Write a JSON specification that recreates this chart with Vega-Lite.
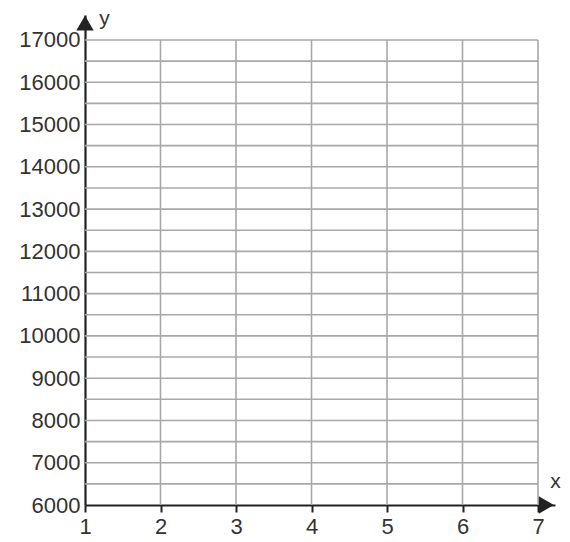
{
  "$schema": "https://vega.github.io/schema/vega-lite/v6.json",
  "autosize": "none",
  "width": 470,
  "height": 490,
  "padding": {"left": 85, "top": 15, "right": 15, "bottom": 37},
  "background": "white",
  "config": {"view": {"stroke": null}},
  "datasets": {
    "vgrid": [{"x": 2}, {"x": 3}, {"x": 4}, {"x": 5}, {"x": 6}, {"x": 7}],
    "hgrid": [
      {"y": 6500}, {"y": 7000}, {"y": 7500}, {"y": 8000}, {"y": 8500},
      {"y": 9000}, {"y": 9500}, {"y": 10000}, {"y": 10500}, {"y": 11000},
      {"y": 11500}, {"y": 12000}, {"y": 12500}, {"y": 13000}, {"y": 13500},
      {"y": 14000}, {"y": 14500}, {"y": 15000}, {"y": 15500}, {"y": 16000},
      {"y": 16500}, {"y": 17000}
    ]
  },
  "layer": [
    {
      "data": {"name": "vgrid"},
      "mark": {"type": "rule", "color": "#a8a8a8", "strokeWidth": 1.6},
      "encoding": {
        "x": {
          "field": "x",
          "type": "quantitative",
          "scale": {"domain": [1, 7.225], "nice": false, "zero": false},
          "axis": {
            "values": [1, 2, 3, 4, 5, 6, 7],
            "format": "d",
            "grid": false,
            "domainColor": "#222",
            "domainWidth": 2.2,
            "tickColor": "#222",
            "tickWidth": 2,
            "tickSize": 7,
            "labelFont": "Liberation Sans",
            "labelFontSize": 22,
            "labelColor": "#333",
            "labelPadding": 4,
            "labelFlush": false,
            "title": "x",
            "titleFont": "Liberation Sans",
            "titleFontSize": 21,
            "titleFontWeight": "normal",
            "titleColor": "#333",
            "titleAnchor": null,
            "titleAlign": "center",
            "titleBaseline": "middle",
            "titleX": 470,
            "titleY": -24
          }
        },
        "y": {"datum": 6000},
        "y2": {"datum": 17000}
      }
    },
    {
      "data": {"name": "hgrid"},
      "mark": {"type": "rule", "color": "#a8a8a8", "strokeWidth": 1.6},
      "encoding": {
        "y": {
          "field": "y",
          "type": "quantitative",
          "scale": {"domain": [6000, 17591], "nice": false, "zero": false},
          "axis": {
            "values": [6000, 7000, 8000, 9000, 10000, 11000, 12000, 13000, 14000, 15000, 16000, 17000],
            "format": "d",
            "grid": false,
            "ticks": false,
            "domainColor": "#222",
            "domainWidth": 2.2,
            "labelFont": "Liberation Sans",
            "labelFontSize": 22,
            "labelColor": "#333",
            "labelPadding": 5,
            "labelFlush": false,
            "title": "y",
            "titleFont": "Liberation Sans",
            "titleFontSize": 21,
            "titleFontWeight": "normal",
            "titleColor": "#333",
            "titleAngle": 0,
            "titleAnchor": null,
            "titleAlign": "center",
            "titleBaseline": "middle",
            "titleX": 19,
            "titleY": 3
          }
        },
        "x": {"datum": 1},
        "x2": {"datum": 7}
      }
    },
    {
      "data": {"values": [{}]},
      "mark": {"type": "point", "shape": "triangle-up", "filled": true, "color": "#222", "opacity": 1, "size": 300},
      "encoding": {
        "x": {"datum": 1},
        "y": {"datum": 17400}
      }
    },
    {
      "data": {"values": [{}]},
      "mark": {"type": "point", "shape": "triangle-right", "filled": true, "color": "#222", "opacity": 1, "size": 300},
      "encoding": {
        "x": {"datum": 7.11},
        "y": {"datum": 6000}
      }
    }
  ]
}
